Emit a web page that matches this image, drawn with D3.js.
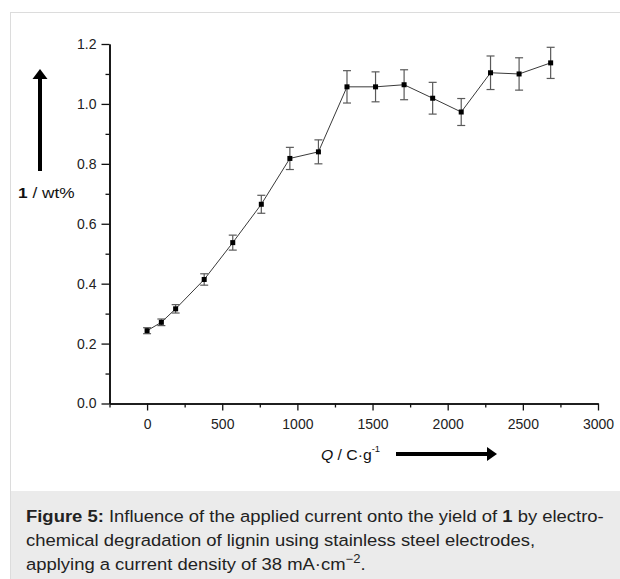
<!DOCTYPE html>
<html>
<head>
<meta charset="utf-8">
<script src="https://cdn.jsdelivr.net/npm/d3@7/dist/d3.min.js"></script>
<style>
  html, body { margin: 0; padding: 0; background: #fff; }
  svg { display: block; }
</style>
</head>
<body>
<svg id="fig" width="620" height="579"></svg>
<script>
// Charge passed (C/g), yield of 1 (wt%) and its standard deviation
const charge = [0, 95, 190, 380, 570, 760, 950, 1140, 1330, 1520, 1710, 1900, 2090, 2285, 2475, 2685];
const yieldPct = [0.243, 0.271, 0.316, 0.414, 0.537, 0.665, 0.818, 0.840, 1.057, 1.057, 1.064, 1.019, 0.973, 1.104, 1.100, 1.137];
const yieldErr = [0.010, 0.011, 0.014, 0.019, 0.025, 0.030, 0.037, 0.040, 0.054, 0.050, 0.050, 0.053, 0.045, 0.056, 0.054, 0.052];

const xMajorTicks = [0, 500, 1000, 1500, 2000, 2500, 3000];
const xMinorTicks = [-250, 250, 750, 1250, 1750, 2250, 2750];
const yMajorTicks = [0.0, 0.2, 0.4, 0.6, 0.8, 1.0, 1.2];
const yMinorTicks = [0.1, 0.3, 0.5, 0.7, 0.9, 1.1];

const points = charge.map((c, i) => ({ x: c, y: yieldPct[i], e: yieldErr[i] }));

const svg = d3.select("#fig");
const font = "'Liberation Sans', Arial, sans-serif";

// figure frame and caption panel
svg.append("rect").attr("x", 10.5).attr("y", 12.5).attr("width", 620).attr("height", 580)
  .attr("fill", "#fff").attr("stroke", "#dcdcdc");
svg.append("rect").attr("x", 11).attr("y", 491).attr("width", 609).attr("height", 88)
  .attr("fill", "#ebebeb");

const x = d3.scaleLinear().domain([-250, 3000]).range([109.5, 598]);
const y = d3.scaleLinear().domain([0, 1.2]).range([403.5, 44]);

// axes
const gx = svg.append("g").attr("transform", `translate(0,${y(0)})`);
gx.call(d3.axisBottom(x).tickValues(xMajorTicks).tickSize(7).tickSizeOuter(0).tickPadding(9)
  .tickFormat(d3.format("d")));
gx.append("g").call(d3.axisBottom(x).tickValues(xMinorTicks).tickSize(4).tickSizeOuter(0).tickFormat(""));

const gy = svg.append("g").attr("transform", `translate(${x(-250)},0)`);
gy.call(d3.axisLeft(y).tickValues(yMajorTicks).tickSize(8).tickSizeOuter(0).tickPadding(5)
  .tickFormat(d3.format(".1f")));
gy.append("g").call(d3.axisLeft(y).tickValues(yMinorTicks).tickSize(4).tickSizeOuter(0).tickFormat(""));

svg.selectAll(".domain").attr("stroke", "#111").attr("stroke-width", 1.6);
svg.selectAll(".tick line").attr("stroke", "#111").attr("stroke-width", 1.3);
svg.selectAll(".tick text").attr("font-family", font).attr("font-size", 14).attr("fill", "#222");

// connecting line
svg.append("path").datum(points)
  .attr("fill", "none").attr("stroke", "#3a3a3a").attr("stroke-width", 1)
  .attr("d", d3.line().x(d => x(d.x)).y(d => y(d.y)));

// error bars
const eb = svg.append("g").attr("stroke", "#5a5a5a").attr("stroke-width", 1.2);
eb.selectAll(".v").data(points).join("line")
  .attr("x1", d => x(d.x)).attr("x2", d => x(d.x))
  .attr("y1", d => y(d.y - d.e)).attr("y2", d => y(d.y + d.e));
eb.selectAll(".t").data(points).join("line")
  .attr("x1", d => x(d.x) - 4).attr("x2", d => x(d.x) + 4)
  .attr("y1", d => y(d.y + d.e)).attr("y2", d => y(d.y + d.e));
eb.selectAll(".b").data(points).join("line")
  .attr("x1", d => x(d.x) - 4).attr("x2", d => x(d.x) + 4)
  .attr("y1", d => y(d.y - d.e)).attr("y2", d => y(d.y - d.e));

// markers
svg.append("g").selectAll("rect").data(points).join("rect")
  .attr("x", d => x(d.x) - 2.5).attr("y", d => y(d.y) - 2.5)
  .attr("width", 5).attr("height", 5).attr("fill", "#000");

// y-axis title with upward arrow
svg.append("rect").attr("x", 38).attr("y", 78).attr("width", 4).attr("height", 93).attr("fill", "#000");
svg.append("path").attr("d", "M40,69 L47.5,79 L32.5,79 Z").attr("fill", "#000");
const yt = svg.append("text").attr("transform", "translate(18,198) scale(1.15,1)")
  .attr("font-family", font).attr("font-size", 15).attr("fill", "#111");
yt.append("tspan").attr("font-weight", "bold").text("1");
yt.append("tspan").text(" / wt%");

// x-axis title with rightward arrow
const xt = svg.append("text").attr("transform", "translate(321,460) scale(1.05,1)")
  .attr("font-family", font).attr("font-size", 15).attr("fill", "#111");
xt.append("tspan").attr("font-style", "italic").text("Q");
xt.append("tspan").text(" / C·g");
xt.append("tspan").attr("font-size", 9).attr("dy", -8).text("-1");
svg.append("rect").attr("x", 396).attr("y", 452).attr("width", 92).attr("height", 4).attr("fill", "#000");
svg.append("path").attr("d", "M497,454 L487,447 L487,461 Z").attr("fill", "#000");

// caption
const cap = svg.append("text").attr("transform", "translate(26,0) scale(1.085,1)")
  .attr("font-family", font).attr("font-size", 17).attr("fill", "#222");
const l1 = cap.append("tspan").attr("x", 0).attr("y", 522);
l1.append("tspan").attr("font-weight", "bold").text("Figure 5:");
l1.append("tspan").text(" Influence of the applied current onto the yield of ");
l1.append("tspan").attr("font-weight", "bold").text("1");
l1.append("tspan").text(" by electro-");
cap.append("tspan").attr("x", 0).attr("y", 546).text("chemical degradation of lignin using stainless steel electrodes,");
const l3 = cap.append("tspan").attr("x", 0).attr("y", 570);
l3.append("tspan").text("applying a current density of 38 mA·cm");
l3.append("tspan").attr("font-size", 12).attr("dy", -7).text("−2");
l3.append("tspan").attr("dy", 7).text(".");
</script>
</body>
</html>
